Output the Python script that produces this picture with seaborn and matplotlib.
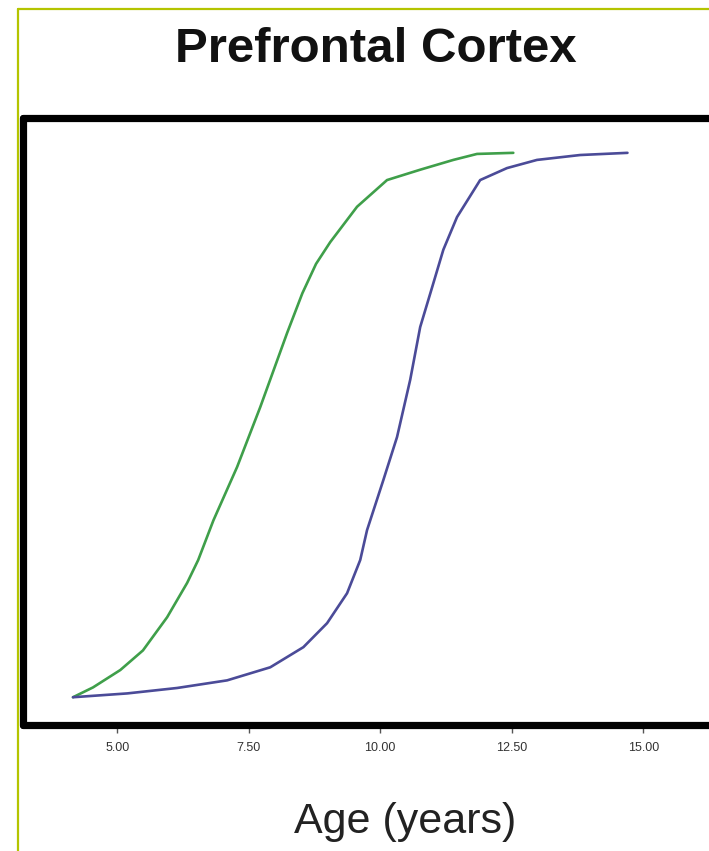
import matplotlib
matplotlib.use("Agg")
import matplotlib.pyplot as plt
from matplotlib.lines import Line2D
import seaborn as sns
import pandas as pd

# ---- data ----
green_age = [4.16, 4.54, 5.06, 5.49, 5.95, 6.33, 6.54, 6.83, 7.28, 7.72, 8.23, 8.52, 8.78, 9.05, 9.56,
             10.13, 10.76, 11.39, 11.84, 12.53]
green_val = [0.0, 1.8, 5.0, 8.6, 14.7, 21.0, 25.2, 32.5, 42.3, 53.3, 66.9, 74.2, 79.6, 83.6, 90.1,
             95.0, 96.9, 98.7, 99.8, 100.0]

blue_age = [4.16, 5.19, 6.14, 7.09, 7.91, 8.54, 8.99, 9.37, 9.62, 9.75, 10.06, 10.32, 10.57,
            10.76, 10.99, 11.20, 11.46, 11.90, 12.41, 12.98, 13.80, 14.70]
blue_val = [0.0, 0.7, 1.7, 3.1, 5.5, 9.2, 13.6, 19.1, 25.2, 30.7, 39.9, 47.8, 58.3,
            68.0, 75.4, 82.2, 88.2, 95.0, 97.2, 98.7, 99.6, 100.0]

series_names = ["green", "blue"]
series_colors = {"green": "#3f9f4a", "blue": "#4b4b98"}
x_ticks = [5.0, 7.5, 10.0, 12.5, 15.0]
x_tick_labels = ["5.00", "7.50", "10.00", "12.50", "15.00"]
title_text = "Prefrontal Cortex"
xlabel_text = "Age (years)"

df = pd.concat([
    pd.DataFrame({"age": green_age, "value": green_val, "series": "green"}),
    pd.DataFrame({"age": blue_age, "value": blue_val, "series": "blue"}),
], ignore_index=True)

sns.set_style("white")
plt.rcParams["font.family"] = ["Liberation Sans", "DejaVu Sans"]

W, H = 709, 851
fig = plt.figure(figsize=(W / 100, H / 100), dpi=100)
fig.patch.set_facecolor("white")

ax = fig.add_axes([23 / W, 1 - 725 / H, 1 - 23 / W, (725 - 118) / H])
sns.lineplot(data=df, x="age", y="value", hue="series", hue_order=series_names,
             palette=series_colors, estimator=None, sort=False, linewidth=1.9,
             legend=False, ax=ax, solid_joinstyle="round", solid_capstyle="round")

ax.set_xlim(3.21, 16.25)
ax.set_ylim(-5.1, 106.4)
ax.set_xticks(x_ticks)
ax.set_xticklabels(x_tick_labels)
ax.set_yticks([])
ax.set_xlabel("")
ax.set_ylabel("")
for side in ["left", "top", "bottom"]:
    ax.spines[side].set_linewidth(5.2)
    ax.spines[side].set_color("black")
    ax.spines[side].set_capstyle("round")
ax.spines["right"].set_visible(False)
ax.tick_params(axis="x", bottom=True, direction="out", length=6, width=1.0,
               color="#555555", labelsize=9, labelcolor="#333333", pad=6)

fig.text(376 / W, 1 - 49 / H, title_text, ha="center", va="center",
         fontsize=35.5, fontweight="bold", color="#111111")
fig.text(405 / W, 1 - 822 / H, xlabel_text, ha="center", va="center",
         fontsize=31, color="#222222")

# thin olive frame on the top and left
border_color = "#b4c400"
fig.add_artist(Line2D([18 / W, 1.0], [1 - 9 / H, 1 - 9 / H], transform=fig.transFigure,
                      color=border_color, linewidth=1.6))
fig.add_artist(Line2D([18 / W, 18 / W], [0.0, 1 - 9 / H], transform=fig.transFigure,
                      color=border_color, linewidth=1.6))

fig.savefig("out.png", dpi=100, facecolor="white")
